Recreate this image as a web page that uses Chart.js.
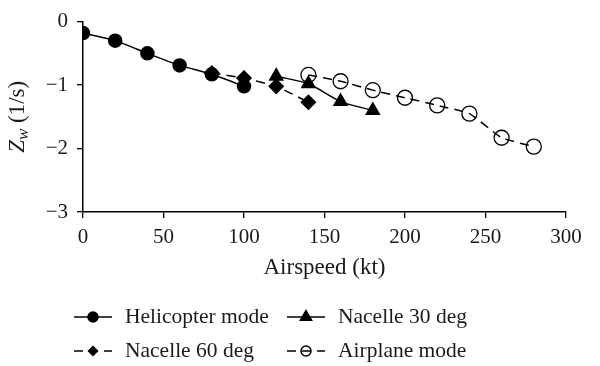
<!DOCTYPE html>
<html lang="en">
<head>
    <meta charset="UTF-8">
    <title>Zw vs airspeed</title>
    <script src="https://cdn.jsdelivr.net/npm/chart.js"></script>
    <style>
        html, body { margin: 0; padding: 0; background: #fff; }
        #wrap { width: 600px; height: 366px; }
    </style>
</head>
<body>
    <div id="wrap"><canvas id="zwChart" width="600" height="366"></canvas></div>

    <script>
        // values
        const heliSpeed = [0, 20, 40, 60, 80, 100];
        const heliZw = [-0.18, -0.30, -0.50, -0.69, -0.83, -1.02];

        const nac30Speed = [120, 140, 160, 180];
        const nac30Zw = [-0.86, -0.98, -1.26, -1.40];

        const nac60Speed = [80, 100, 120, 140];
        const nac60Zw = [-0.81, -0.89, -1.02, -1.27];

        const planeSpeed = [140, 160, 180, 200, 220, 240, 260, 280];
        const planeZw = [-0.84, -0.94, -1.08, -1.20, -1.32, -1.45, -1.83, -1.97];

        const seriesNames = ['Helicopter mode', 'Nacelle 30 deg', 'Nacelle 60 deg', 'Airplane mode'];
        const xTicks = [0, 50, 100, 150, 200, 250, 300];
        const yTicks = [-3, -2, -1, 0];

        const FONT = "'Liberation Serif', 'DejaVu Serif', serif";

        const toPts = (xs, ys) => xs.map((x, i) => ({ x: x, y: ys[i] }));

        // legend drawn as a 2x2 grid under the axis
        const gridLegend = {
            id: 'gridLegend',
            afterDraw(chart) {
                const ctx = chart.ctx;
                const cells = [
                    { i: 0, x: 74, y: 317, r: 5 },
                    { i: 1, x: 287, y: 317, r: 6.5 },
                    { i: 2, x: 74, y: 351, r: 4.5 },
                    { i: 3, x: 287, y: 351, r: 5 }
                ];
                ctx.save();
                cells.forEach(c => {
                    const ds = chart.data.datasets[c.i];
                    ctx.strokeStyle = '#000';
                    ctx.lineWidth = 1.5;
                    ctx.setLineDash(ds.borderDash || []);
                    ctx.beginPath();
                    ctx.moveTo(c.x, c.y);
                    ctx.lineTo(c.x + 38, c.y);
                    ctx.stroke();
                    ctx.setLineDash([]);
                    ctx.fillStyle = ds.pointBackgroundColor;
                    Chart.helpers.drawPoint(ctx, {
                        pointStyle: ds.pointStyle,
                        radius: c.r,
                        rotation: 0,
                        borderWidth: 1.3
                    }, c.x + 19, c.y);
                    ctx.fillStyle = '#1a1a1a';
                    ctx.font = "21.5px " + FONT;
                    ctx.textBaseline = 'middle';
                    ctx.textAlign = 'left';
                    ctx.fillText(ds.label, c.x + 51, c.y);
                });
                ctx.restore();
            }
        };

        // y title with italic Z and subscript w
        const yTitle = {
            id: 'yTitle',
            afterDraw(chart) {
                const ctx = chart.ctx;
                const area = chart.chartArea;
                ctx.save();
                ctx.translate(16, (area.top + area.bottom) / 2);
                ctx.rotate(-Math.PI / 2);
                ctx.fillStyle = '#1a1a1a';
                ctx.textBaseline = 'alphabetic';
                const big = "italic 23px " + FONT;
                const small = "italic 17px " + FONT;
                const rest = "23px " + FONT;
                ctx.font = big; const wZ = ctx.measureText('Z').width;
                ctx.font = small; const wW = ctx.measureText('w').width;
                ctx.font = rest; const wR = ctx.measureText(' (1/s)').width;
                let x = -(wZ + wW + wR) / 2;
                const base = 8;
                ctx.font = big; ctx.fillText('Z', x, base); x += wZ;
                ctx.font = small; ctx.fillText('w', x, base + 4); x += wW;
                ctx.font = rest; ctx.fillText(' (1/s)', x, base);
                ctx.restore();
            }
        };

        const ctx = document.getElementById('zwChart').getContext('2d');
        new Chart(ctx, {
            type: 'scatter',
            data: {
                datasets: [
                    {
                        label: seriesNames[0],
                        data: toPts(heliSpeed, heliZw),
                        showLine: true,
                        borderColor: '#000',
                        borderWidth: 1.5,
                        pointStyle: 'circle',
                        pointRadius: 6.5,
                        pointBackgroundColor: '#000',
                        pointBorderColor: '#000',
                        tension: 0.15
                    },
                    {
                        label: seriesNames[1],
                        data: toPts(nac30Speed, nac30Zw),
                        showLine: true,
                        borderColor: '#000',
                        borderWidth: 1.5,
                        pointStyle: 'triangle',
                        pointRadius: 7.5,
                        pointBackgroundColor: '#000',
                        pointBorderColor: '#000',
                        tension: 0.25
                    },
                    {
                        label: seriesNames[2],
                        data: toPts(nac60Speed, nac60Zw),
                        showLine: true,
                        borderColor: '#000',
                        borderWidth: 1.5,
                        borderDash: [9, 6],
                        pointStyle: 'rectRot',
                        pointRadius: 7,
                        pointBackgroundColor: '#000',
                        pointBorderColor: '#000',
                        tension: 0.15
                    },
                    {
                        label: seriesNames[3],
                        data: toPts(planeSpeed, planeZw),
                        showLine: true,
                        borderColor: '#000',
                        borderWidth: 1.5,
                        borderDash: [9, 6],
                        pointStyle: 'circle',
                        pointRadius: 7.5,
                        pointBorderWidth: 1.3,
                        pointBackgroundColor: 'rgba(255,255,255,0)',
                        pointBorderColor: '#000',
                        tension: 0.15
                    }
                ]
            },
            options: {
                responsive: false,
                animation: false,
                layout: { padding: { top: 15, right: 34, bottom: 84, left: 0 } },
                plugins: {
                    legend: { display: false },
                    tooltip: { enabled: false }
                },
                scales: {
                    x: {
                        type: 'linear',
                        min: 0,
                        max: 300,
                        afterBuildTicks: (scale) => { scale.ticks = xTicks.map(v => ({ value: v })); },
                        afterFit: (scale) => { scale.height = 70; },
                        grid: { display: true, drawOnChartArea: false, tickLength: 6, color: '#000', lineWidth: 1.3 },
                        border: { display: true, color: '#000', width: 1.5 },
                        ticks: { color: '#1a1a1a', padding: 7, font: { family: FONT, size: 21 } },
                        title: {
                            display: true,
                            text: 'Airspeed (kt)',
                            color: '#1a1a1a',
                            padding: { top: 0, bottom: 0 },
                            font: { family: FONT, size: 23 }
                        }
                    },
                    y: {
                        type: 'linear',
                        min: -3,
                        max: 0,
                        afterBuildTicks: (scale) => { scale.ticks = yTicks.map(v => ({ value: v })); },
                        afterFit: (scale) => { scale.width = 83; },
                        grid: { display: true, drawOnChartArea: false, tickLength: 6, color: '#000', lineWidth: 1.3 },
                        border: { display: true, color: '#000', width: 1.5 },
                        ticks: {
                            color: '#1a1a1a',
                            padding: 9,
                            font: { family: FONT, size: 21 },
                            callback: (v) => (v < 0 ? '\u2212' + Math.abs(v) : String(v))
                        }
                    }
                }
            },
            plugins: [gridLegend, yTitle]
        });
    </script>
</body>
</html>
